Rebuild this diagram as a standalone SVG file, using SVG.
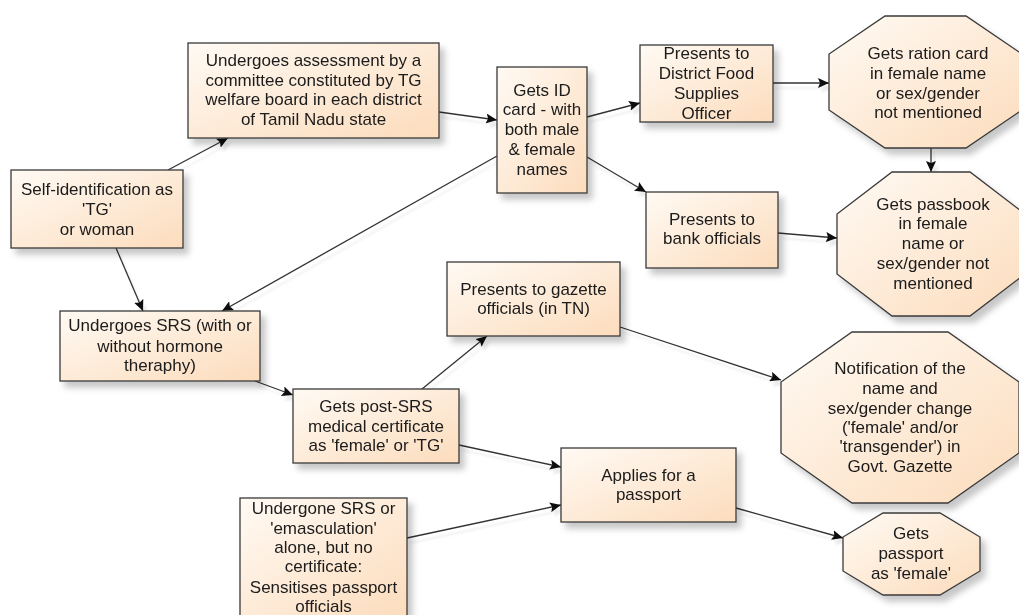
<svg xmlns="http://www.w3.org/2000/svg" width="1019" height="615" viewBox="0 0 1019 615">
<defs>
<linearGradient id="g" x1="0" y1="0" x2="1" y2="1">
<stop offset="0" stop-color="#fffaf4"/>
<stop offset="1" stop-color="#fcdcbc"/>
</linearGradient>
<filter id="sh" x="-10%" y="-10%" width="130%" height="140%">
<feDropShadow dx="5" dy="6" stdDeviation="3" flood-color="#000" flood-opacity="0.22"/>
</filter>
<filter id="lsh" x="-10%" y="-10%" width="130%" height="140%">
<feDropShadow dx="3" dy="5" stdDeviation="1" flood-color="#000" flood-opacity="0.08"/>
</filter>
<marker id="ah" markerWidth="12" markerHeight="10" refX="11" refY="5" orient="auto" markerUnits="userSpaceOnUse">
<path d="M0,0 L11,5 L0,10 L2,5 z" fill="#111"/>
</marker>
</defs>
<style>
.n rect, .n polygon { fill: url(#g); stroke: #3a3a3a; stroke-width: 1.3; }
.n { filter: url(#sh); }
text { font-family: "Liberation Sans", Arial, sans-serif; font-size: 17px; fill: #1a1a1a; text-anchor: middle; }
#connectors line { stroke: #333; stroke-width: 1.3; marker-end: url(#ah); }
#connectors { filter: url(#lsh); }
</style>
<rect width="1019" height="615" fill="#fff"/>
<g id="connectors">
<line x1="168" y1="170" x2="228" y2="138"/>
<line x1="439" y1="112" x2="497" y2="120"/>
<line x1="497" y1="156" x2="222" y2="311"/>
<line x1="116" y1="248" x2="143" y2="311"/>
<line x1="255" y1="381" x2="293" y2="395"/>
<line x1="422" y1="389" x2="487" y2="336"/>
<line x1="459" y1="445" x2="561" y2="467"/>
<line x1="407" y1="538" x2="561" y2="505"/>
<line x1="620" y1="327" x2="781" y2="380"/>
<line x1="736" y1="508" x2="843" y2="538"/>
<line x1="587" y1="117" x2="640" y2="103"/>
<line x1="587" y1="157" x2="646" y2="192"/>
<line x1="773" y1="83" x2="829" y2="83"/>
<line x1="778" y1="233" x2="837" y2="238"/>
<line x1="931" y1="148" x2="931" y2="172"/>
</g>
<g id="self-id" class="n">
<rect x="11" y="170" width="172" height="78"/>
<text x="97" y="195">Self-identification as</text>
<text x="97" y="215">'TG'</text>
<text x="97" y="235">or woman</text>
</g>
<g id="assessment" class="n">
<rect x="188" y="43" width="251" height="95"/>
<text x="313.5" y="66">Undergoes assessment by a</text>
<text x="313.5" y="86">committee constituted by TG</text>
<text x="313.5" y="105">welfare board in each district</text>
<text x="313.5" y="125">of Tamil Nadu state</text>
</g>
<g id="idcard" class="n">
<rect x="497" y="67" width="90" height="126"/>
<text x="542" y="96">Gets ID</text>
<text x="542" y="115">card - with</text>
<text x="542" y="135">both male</text>
<text x="542" y="155">&amp; female</text>
<text x="542" y="175">names</text>
</g>
<g id="food" class="n">
<rect x="640" y="45" width="133" height="77"/>
<text x="706.5" y="59">Presents to</text>
<text x="706.5" y="79">District Food</text>
<text x="706.5" y="99">Supplies</text>
<text x="706.5" y="119">Officer</text>
</g>
<g id="bank" class="n">
<rect x="646" y="192" width="132" height="76"/>
<text x="712" y="225">Presents to</text>
<text x="712" y="244">bank officials</text>
</g>
<g id="ration" class="n">
<polygon points="885,16 966,16 1022,54 1022,110 966,148 885,148 829,110 829,54"/>
<text x="928" y="59">Gets ration card</text>
<text x="928" y="79">in female name</text>
<text x="928" y="99">or sex/gender</text>
<text x="928" y="118">not mentioned</text>
</g>
<g id="passbook" class="n">
<polygon points="892,172 970,172 1025,214 1025,274 970,316 892,316 837,274 837,214"/>
<text x="933" y="210">Gets passbook</text>
<text x="933" y="229">in female</text>
<text x="933" y="249">name or</text>
<text x="933" y="269">sex/gender not</text>
<text x="933" y="289">mentioned</text>
</g>
<g id="srs" class="n">
<rect x="60" y="311" width="200" height="70"/>
<text x="160" y="331">Undergoes SRS (with or</text>
<text x="160" y="352">without hormone</text>
<text x="160" y="371">theraphy)</text>
</g>
<g id="postsrs" class="n">
<rect x="293" y="389" width="166" height="74"/>
<text x="376" y="412">Gets post-SRS</text>
<text x="376" y="432">medical certificate</text>
<text x="376" y="451">as 'female' or 'TG'</text>
</g>
<g id="gazette" class="n">
<rect x="447" y="262" width="173" height="74"/>
<text x="533.5" y="295">Presents to gazette</text>
<text x="533.5" y="314">officials (in TN)</text>
</g>
<g id="notification" class="n">
<polygon points="852,332 948,332 1019,382 1019,453 948,503 852,503 781,453 781,382"/>
<text x="900" y="374">Notification of the</text>
<text x="900" y="394">name and</text>
<text x="900" y="414">sex/gender change</text>
<text x="900" y="433">('female' and/or</text>
<text x="900" y="452">'transgender') in</text>
<text x="900" y="472">Govt. Gazette</text>
</g>
<g id="applies" class="n">
<rect x="561" y="448" width="175" height="74"/>
<text x="648.5" y="481">Applies for a</text>
<text x="648.5" y="500">passport</text>
</g>
<g id="passport" class="n">
<polygon points="883,513 940,513 980,537 980,571 940,595 883,595 843,571 843,537"/>
<text x="911" y="539">Gets</text>
<text x="911" y="559">passport</text>
<text x="911" y="579">as 'female'</text>
</g>
<g id="undergone" class="n">
<rect x="240" y="498" width="167" height="120"/>
<text x="323.5" y="514">Undergone SRS or</text>
<text x="323.5" y="534">'emasculation'</text>
<text x="323.5" y="553">alone, but no</text>
<text x="323.5" y="572">certificate:</text>
<text x="323.5" y="593">Sensitises passport</text>
<text x="323.5" y="612">officials</text>
</g>
</svg>
